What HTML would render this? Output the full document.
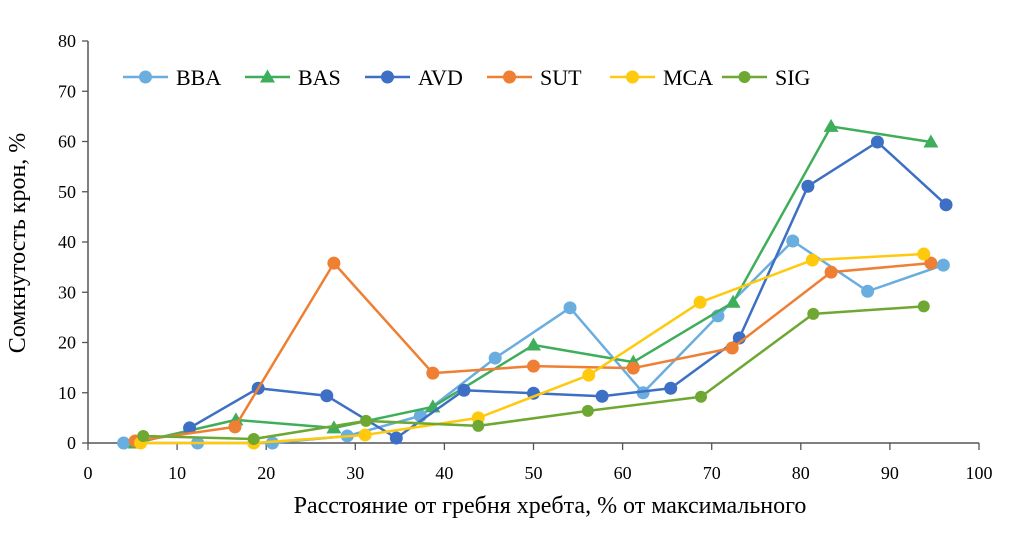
<!DOCTYPE html>
<html><head><meta charset="utf-8"><style>
body{margin:0;background:#fff;}
svg{display:block;font-family:"Liberation Serif",serif;}
</style></head><body>
<svg id="chart" width="1014" height="558" viewBox="0 0 1014 558">
<g id="axes"></g>
<g id="series"></g>
<g id="legend"></g>
<text transform="translate(25,243) rotate(-90)" text-anchor="middle" font-size="24">Сомкнутость крон, %</text>
<text x="550" y="513" text-anchor="middle" font-size="24">Расстояние от гребня хребта, % от максимального</text>
</svg>
<script>
const xTicks=[0,10,20,30,40,50,60,70,80,90,100];
const yTicks=[0,10,20,30,40,50,60,70,80];
const seriesNames=["BBA","BAS","AVD","SUT","MCA","SIG"];
const bbaX=[4.0,12.3,20.7,29.1,37.3,45.7,54.1,62.3,70.7,79.1,87.5,96.0];
const bbaY=[0,0,0,1.4,5.4,16.9,26.9,10,25.3,40.2,30.2,35.4];
const basX=[5.3,16.6,27.6,38.7,50.0,61.2,72.4,83.4,94.6];
const basY=[0,4.6,3.0,7.2,19.5,16.1,28.0,63.0,59.9];
const avdX=[11.4,19.1,26.8,34.6,42.2,50.0,57.7,65.4,73.1,80.8,88.6,96.3];
const avdY=[3.0,10.9,9.4,1.0,10.5,9.9,9.3,10.9,20.9,51.1,59.9,47.4];
const sutX=[5.3,16.5,27.6,38.7,50.0,61.2,72.3,83.4,94.6];
const sutY=[0.4,3.2,35.8,13.9,15.3,14.9,18.9,34.0,35.8];
const mcaX=[5.9,18.6,31.1,43.8,56.2,68.7,81.3,93.8];
const mcaY=[0,0,1.6,5.0,13.5,28.0,36.4,37.6];
const sigX=[6.2,18.6,31.2,43.8,56.1,68.8,81.4,93.8];
const sigY=[1.4,0.8,4.4,3.4,6.4,9.2,25.7,27.2];
const colors=["#6aaee0","#3fae5a","#3d6fc4","#ee7f33","#ffc90e","#6ea832"];
const NS="http://www.w3.org/2000/svg";
const X0=88,X1=979,Y0=443,Y1=41;
const xs=v=>X0+(v-0)/100*(X1-X0);
const ys=v=>Y0-(v-0)/80*(Y0-Y1);
function mk(t,a,p){const e=document.createElementNS(NS,t);for(const k in a)e.setAttribute(k,a[k]);p.appendChild(e);return e;}
const ax=document.getElementById('axes');
let e=mk('line',{x1:X0,y1:Y1,x2:X0,y2:Y0,stroke:'#555','stroke-width':1.5},ax);


e=mk('line',{x1:X0,y1:Y0,x2:X1,y2:Y0,stroke:'#555','stroke-width':1.5},ax);


yTicks.forEach(v=>{
 mk('line',{x1:X0-6,y1:ys(v),x2:X0,y2:ys(v),stroke:'#555','stroke-width':1.3},ax);
 const t=mk('text',{x:X0-12,y:ys(v)+6,'text-anchor':'end','font-size':18},ax);
 t.textContent=v;
 
 
});
xTicks.forEach(v=>{
 mk('line',{x1:xs(v),y1:Y0,x2:xs(v),y2:Y0+7,stroke:'#555','stroke-width':1.3},ax);
 const t=mk('text',{x:xs(v),y:Y0+36,'text-anchor':'middle','font-size':18},ax);
 t.textContent=v;
 
 
});
const sg=document.getElementById('series');
const data=[[bbaX,bbaY],[basX,basY],[avdX,avdY],[sutX,sutY],[mcaX,mcaY],[sigX,sigY]];
function marker(i,cx,cy,p){
 if(i===1){return mk('polygon',{points:`${cx},${cy-7.5} ${cx-7.5},${cy+5.5} ${cx+7.5},${cy+5.5}`,fill:colors[i]},p);}
 return mk('circle',{cx:cx,cy:cy,r:i===5?6:6.5,fill:colors[i]},p);
}
data.forEach((d,i)=>{
 const g=mk('g',{},sg);
 
 
 const pts=d[0].map((x,k)=>xs(x)+','+ys(d[1][k])).join(' ');
 mk('polyline',{points:pts,fill:'none',stroke:colors[i],'stroke-width':2.5,'stroke-linejoin':'round'},g);
 d[0].forEach((x,k)=>{
  const m=marker(i,xs(x),ys(d[1][k]),g);
  
  
 });
});
const lg=document.getElementById('legend');
const lx=[123,245,365,487,610,722];
seriesNames.forEach((n,i)=>{
 const g=mk('g',{},lg);
 
 
 mk('line',{x1:lx[i],y1:77,x2:lx[i]+45,y2:77,stroke:colors[i],'stroke-width':2.5},g);
 marker(i,lx[i]+22.5,77,g);
 const t=mk('text',{x:lx[i]+53,y:85,'font-size':22},g);
 t.textContent=n;
});
</script>
</body></html>
